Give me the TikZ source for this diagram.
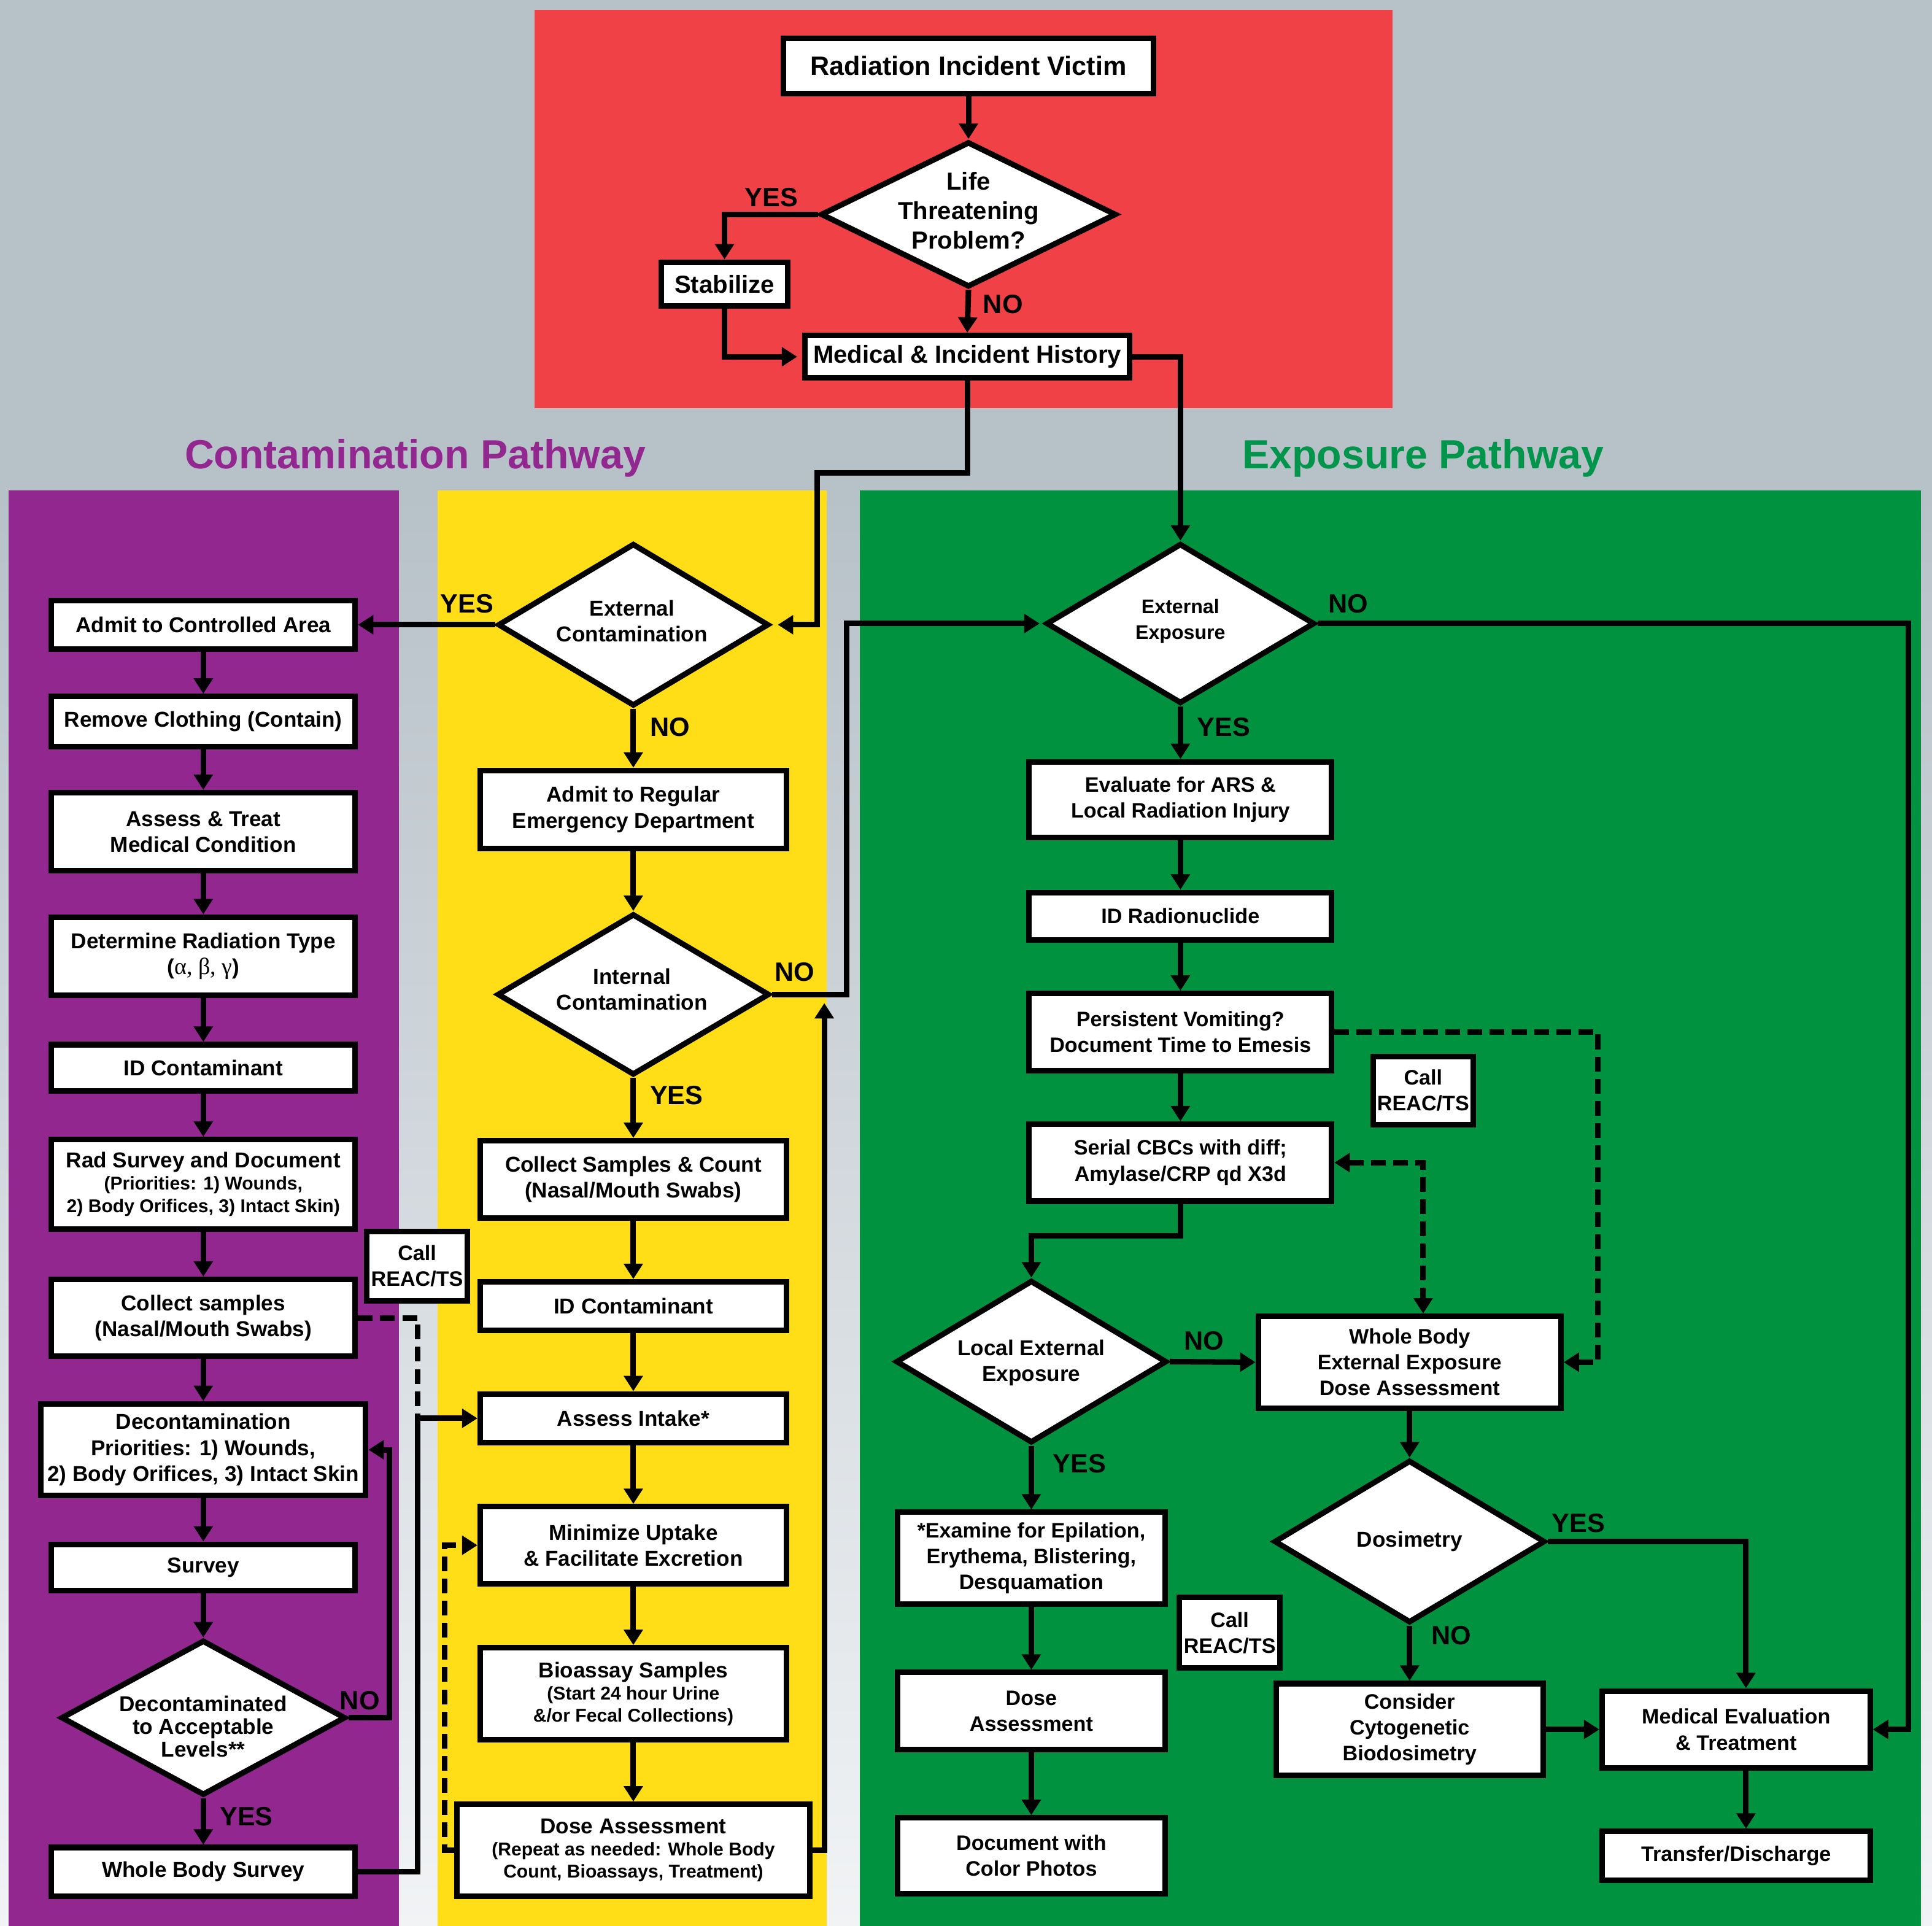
\documentclass[tikz,border=0pt]{standalone}
\usepackage{fontspec}
\setmainfont{Liberation Sans}
\newfontfamily\gfont{Liberation Serif}
\usetikzlibrary{arrows.meta,shapes.geometric}
\definecolor{bgc}{HTML}{B7C1C8}
\definecolor{bgl}{HTML}{F1F3F5}
\definecolor{redc}{HTML}{EF4146}
\definecolor{purc}{HTML}{92278F}
\definecolor{yelc}{HTML}{FFDE17}
\definecolor{grnc}{HTML}{00923F}
\definecolor{grnt}{HTML}{00954A}
\newcommand\smtxt{\fontsize{15}{18}\selectfont}
\begin{document}
\begin{tikzpicture}[x=1pt,y=-1pt,
  box/.style 2 args={draw, fill=white, line width=4.5pt, align=center, inner sep=0pt,
     minimum width=#1pt-4.5pt, minimum height=#2pt-4.5pt},
  dia/.style 2 args={diamond, draw, fill=white, line width=4.5pt, inner sep=0pt,
     minimum width=#1pt-4pt, minimum height=#2pt-4pt},
  fa/.style={font=\bfseries\fontsize{17.5}{21}\selectfont},
  fe/.style={font=\bfseries\fontsize{17}{21}\selectfont},
  fr/.style={font=\bfseries\fontsize{20}{24}\selectfont},
  dtext/.style={align=center, inner sep=0pt},
  lab/.style={font=\bfseries\fontsize{21.5}{22}\selectfont, inner sep=0pt},
  conn/.style={line width=4.5pt, -{Triangle[length=12.5pt,width=15pt]}},
  plainconn/.style={line width=4.5pt},
  dconn/.style={line width=4.5pt, dash pattern=on 12pt off 6pt, -{Triangle[length=12.5pt,width=15pt]}},
  dplain/.style={line width=4.5pt, dash pattern=on 12pt off 6pt},
  title/.style={font=\bfseries\fontsize{33}{36}\selectfont, inner sep=0pt}
]
\useasboundingbox (0,0) rectangle (1568,1563);
% backgrounds
\fill[bgc] (0,0) rectangle (1568,1563);
\shade[top color=bgc, bottom color=bgl] (0,398) rectangle (1568,1563);
\fill[redc] (434,8) rectangle (1130,331);
\fill[purc] (7,398) rectangle (324,1563);
\fill[yelc] (355,398) rectangle (671,1563);
\fill[grnc] (698,398) rectangle (1559,1563);

% titles
\node[title, text=purc] (ttlc) at (337,372) {Contamination Pathway};
\node[title, text=grnt] (ttle) at (1155,372) {Exposure Pathway};

% ---------- red area ----------
\node[box={305}{49}, font=\bfseries\fontsize{21.5}{24}\selectfont] (victim) at (786,53.5) {Radiation Incident Victim};
\node[dia={244}{122}] (life) at (786,174) {};
\node[dtext, fr] (lifeT) at (786,171) {Life\\Threatening\\Problem?};
\node[box={107}{40}, fr] (stab) at (588,230.5) {Stabilize};
\node[box={268}{39}, fr] (med) at (785,289.5) {Medical \& Incident History};
\node[lab] (lyes1) at (626,160) {YES};
\node[lab] (lno1) at (814,247) {NO};

% ---------- contamination (purple) ----------
\node[box={251}{44}, fa] (cadmit) at (165,507) {Admit to Controlled Area};
\node[box={251}{45}, fa] (cremove) at (165,585.5) {Remove Clothing (Contain)};
\node[box={251}{68}, fa] (cassess) at (165,675) {Assess \& Treat\\Medical Condition};
\node[box={251}{68}, fa] (cdeterm) at (165,776) {Determine Radiation Type\\({\gfont\mdseries\fontsize{19}{21}\selectfont α, β, γ})};
\node[box={251}{42}, fa] (cid) at (165,866.5) {ID Contaminant};
\node[box={251}{77}, fa] (crad) at (165,961) {Rad Survey and Document\\[-3pt]{\smtxt (Priorities: 1) Wounds,}\\[-3pt]{\smtxt 2) Body Orifices, 3) Intact Skin)}};
\node[box={251}{67}, fa] (ccollect) at (165,1069.5) {Collect samples\\(Nasal/Mouth Swabs)};
\node[box={268}{79}, fa] (cdecon) at (165,1176.5) {Decontamination\\Priorities: 1) Wounds,\\2) Body Orifices, 3) Intact Skin};
\node[box={251}{42}, fa] (csurvey) at (165,1272) {Survey};
\node[dia={235}{130}] (cdiam) at (165,1394) {};
\node[dtext, font=\bfseries\fontsize{17.5}{18.5}\selectfont] (cdiamT) at (165,1401) {Decontaminated\\to Acceptable\\Levels**};
\node[box={251}{44}, fa] (cwhole) at (165,1519) {Whole Body Survey};
\node[box={86}{61}, fe] (ccall) at (338.5,1027.5) {Call\\REAC/TS};
\node[lab] (lno2) at (292,1380) {NO};
\node[lab] (lyes2) at (200,1474) {YES};

% ---------- contamination (yellow) ----------
\node[dia={224}{136}] (yext) at (514,507) {};
\node[dtext, fa] (yextT) at (513,504) {External\\Contamination};
\node[box={253}{68}, fa] (yadmit) at (514,657) {Admit to Regular\\Emergency Department};
\node[dia={225}{135}] (yint) at (514,807) {};
\node[dtext, fa] (yintT) at (513,803) {Internal\\Contamination};
\node[box={253}{67}, fa] (ycollect) at (514,957) {Collect Samples \& Count\\(Nasal/Mouth Swabs)};
\node[box={253}{44}, fa] (yid) at (514,1060) {ID Contaminant};
\node[box={253}{44}, fa] (yassess) at (514,1151) {Assess Intake*};
\node[box={253}{67}, fa] (ymin) at (514,1254) {Minimize Uptake\\\& Facilitate Excretion};
\node[box={253}{79}, fa] (ybio) at (514,1374.5) {Bioassay Samples\\[-3pt]{\smtxt (Start 24 hour Urine}\\[-3pt]{\smtxt \&/or Fecal Collections)}};
\node[box={291}{79}, fa] (ydose) at (514,1501.5) {Dose Assessment\\[-3pt]{\smtxt (Repeat as needed: Whole Body}\\[-3pt]{\smtxt Count, Bioassays, Treatment)}};
\node[lab] (lyes3) at (379,490) {YES};
\node[lab] (lno3) at (544,590) {NO};
\node[lab] (lno4) at (645,789) {NO};
\node[lab] (lyes4) at (549,889) {YES};

% ---------- exposure (green) ----------
\node[dia={222}{134}] (gext) at (958,506) {};
\node[dtext, font=\bfseries\fontsize{16}{21}\selectfont] (gextT) at (958,504) {External\\Exposure};
\node[box={250}{66}, fe] (geval) at (958,649) {Evaluate for ARS \&\\Local Radiation Injury};
\node[box={250}{43}, fe] (gid) at (958,743.5) {ID Radionuclide};
\node[box={250}{67}, fe] (gpers) at (958,837.5) {Persistent Vomiting?\\Document Time to Emesis};
\node[box={250}{67}, fe] (gser) at (958,943.5) {Serial CBCs with diff;\\Amylase/CRP qd X3d};
\node[box={86}{60}, fe] (gcall1) at (1155,885) {Call\\REAC/TS};
\node[dia={224}{136}] (glocal) at (837,1105) {};
\node[dtext, fa] (glocalT) at (837,1106) {Local External\\Exposure};
\node[box={250}{79}, fe] (gwhole) at (1144,1105.5) {Whole Body\\External Exposure\\Dose Assessment};
\node[dia={224}{136}] (gdos) at (1144,1251) {};
\node[dtext, fa] (gdosT) at (1144,1251) {Dosimetry};
\node[box={222}{79}, fe] (gexam) at (837,1264.5) {*Examine for Epilation,\\Erythema, Blistering,\\Desquamation};
\node[box={86}{62}, fe] (gcall2) at (998,1325) {Call\\REAC/TS};
\node[box={222}{67}, fe] (gdose) at (837,1388.5) {Dose\\Assessment};
\node[box={222}{66}, fe] (gdoc) at (837,1506) {Document with\\Color Photos};
\node[box={221}{79}, fe] (gcons) at (1144,1403.5) {Consider\\Cytogenetic\\Biodosimetry};
\node[box={222}{67}, fe] (gmed) at (1409,1403.5) {Medical Evaluation\\\& Treatment};
\node[box={222}{44}, fe] (gtrans) at (1409,1506) {Transfer/Discharge};
\node[lab] (lno5) at (1094,490) {NO};
\node[lab] (lyes5) at (993,590) {YES};
\node[lab] (lno6) at (977,1088) {NO};
\node[lab] (lyes6) at (876,1188) {YES};
\node[lab] (lyes7) at (1281,1236) {YES};
\node[lab] (lno7) at (1178,1327) {NO};

% junction coordinates
\coordinate (j1) at (663,384);
\coordinate (j2) at (687,807);
\coordinate (j3) at (669,814);
\coordinate (j4) at (361,1254);
\coordinate (j5) at (316,1176.5);
\coordinate (j6) at (339,1151);
\coordinate (j7) at (1549,1403.5);
\coordinate (j8) at (1297,1105.5);
\coordinate (j9) at (1155,943.5);
\coordinate (j10) at (837,1003);
\coordinate (j11) at (1417,1251);

% ---------- connectors: red ----------
\draw[conn] (victim.south) -- (life.north);
\draw[conn] (life.west) -| (stab.north);
\draw[conn] (life.south) -- (med.north);
\draw[conn, shorten >=4pt] (stab.south) |- (med.west);
\draw[conn] (med.east) -| (gext.north);
\draw[conn, shorten >=5pt] (med.south) |- (j1) |- (yext.east);

% ---------- connectors: purple ----------
\draw[conn] (yext.west) -- (cadmit.east);
\draw[conn] (cadmit) -- (cremove);
\draw[conn] (cremove) -- (cassess);
\draw[conn] (cassess) -- (cdeterm);
\draw[conn] (cdeterm) -- (cid);
\draw[conn] (cid) -- (crad);
\draw[conn] (crad) -- (ccollect);
\draw[conn] (ccollect) -- (cdecon);
\draw[conn] (cdecon) -- (csurvey);
\draw[conn] (csurvey.south) -- (cdiam.north);
\draw[conn] (cdiam.south) -- (cwhole.north);
\draw[conn] (cdiam.east) -| (j5) -- (cdecon.east);
\draw[conn] (cwhole.east) -| (j6) -- (yassess.west);
\draw[dplain] (ccollect.east) -| (j6);

% ---------- connectors: yellow ----------
\draw[conn] (yext.south) -- (yadmit.north);
\draw[conn] (yadmit.south) -- (yint.north);
\draw[conn, shorten >=3pt] (yint.east) -- (j2) |- (gext.west);
\draw[conn] (yint.south) -- (ycollect.north);
\draw[conn] (ycollect) -- (yid);
\draw[conn] (yid) -- (yassess);
\draw[conn] (yassess) -- (ymin);
\draw[conn] (ymin) -- (ybio);
\draw[conn] (ybio) -- (ydose);
\draw[conn] (ydose.east) -| (j3);
\draw[dconn] (ydose.west) -| (j4) -- (ymin.west);

% ---------- connectors: green ----------
\draw[conn] (gext.south) -- (geval.north);
\draw[conn] (geval) -- (gid);
\draw[conn] (gid) -- (gpers);
\draw[conn] (gpers) -- (gser);
\draw[conn] (gext.east) -| (j7) -- (gmed.east);
\draw[dconn] (gpers.east) -| (j8) -- (gwhole.east);
\draw[dconn, {Triangle[length=12.5pt,width=15pt]}-{Triangle[length=12.5pt,width=15pt]}] (gser.east) -- (j9) -- (gwhole.north -| j9);
\draw[conn] (gser.south) |- (j10) -- (glocal.north);
\draw[conn] (glocal.east) -- (gwhole.west);
\draw[conn] (glocal.south) -- (gexam.north);
\draw[conn] (gexam) -- (gdose);
\draw[conn] (gdose) -- (gdoc);
\draw[conn] (gwhole.south) -- (gdos.north);
\draw[conn] (gdos.east) -- (j11) -- (j11 |- gmed.north);
\draw[conn] (gdos.south) -- (gcons.north);
\draw[conn] (gcons.east) -- (gmed.west);
\draw[conn] (gmed.south -| j11) -- (gtrans.north -| j11);
\end{tikzpicture}
\end{document}
